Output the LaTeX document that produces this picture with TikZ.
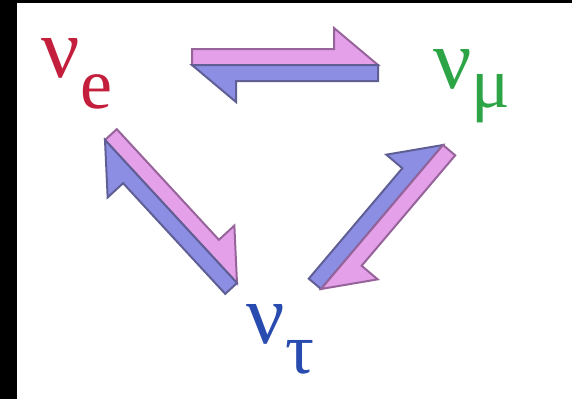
\documentclass[tikz,border=0pt]{standalone}
\usepackage{fontspec}
\setmainfont{Liberation Serif}
\usetikzlibrary{calc}
\definecolor{nured}{RGB}{195,30,60}
\definecolor{nugreen}{RGB}{45,165,70}
\definecolor{nublue}{RGB}{40,75,175}
\definecolor{pinkfill}{RGB}{228,160,232}
\definecolor{pinkline}{RGB}{150,100,155}
\definecolor{bluefill}{RGB}{140,142,228}
\definecolor{blueline}{RGB}{95,95,150}
\newcommand{\harpw}{16pt}
\newcommand{\harpb}{21pt}
\newcommand{\harph}{44pt}
\newcommand{\harp}[3]{%
  \draw[#3] let \p1=($(#2)-(#1)$), \n1={atan2(\y1,\x1)}, \n2={veclen(\x1,\y1)} in
    (#1) -- ++({\n1+90}:\harpw) -- ++(\n1:{\n2-\harph}) -- ++({\n1+90}:\harpb) -- (#2) -- cycle;}
\begin{document}
\begin{tikzpicture}[x=1pt,y=-1pt,
  nu/.style={inner sep=0pt, anchor=base west, font=\fontsize{85}{85}\selectfont},
  sub/.style={inner sep=0pt, anchor=base west, font=\fontsize{72}{72}\selectfont},
  pinkarrow/.style={fill=pinkfill, draw=pinkline, line width=2pt, line join=miter},
  bluearrow/.style={fill=bluefill, draw=blueline, line width=2pt, line join=miter}]
\useasboundingbox (0,0) rectangle (572,399);
\fill[white] (0,0) rectangle (572,399);
\fill[black] (0,0) rectangle (17,399);
\fill[black] (0,0) rectangle (572,3);
% labels
\node[nu, text=nured] (ve) at (41,77) {ν};
\node[sub, text=nured] (vesub) at (80,108) {e};
\node[nu, text=nugreen] (vm) at (433,88) {ν};
\node[sub, text=nugreen] (vmsub) at (471,107) {μ};
\node[nu, text=nublue] (vt) at (246,343) {ν};
\node[sub, text=nublue] (vtsub) at (285,373) {τ};
% arrow end points
\coordinate (topL) at (192,65);
\coordinate (topR) at (378,65);
\coordinate (leftU) at (105,140);
\coordinate (leftD) at (237,283);
\coordinate (rightD) at (321,289);
\coordinate (rightU) at (443,145);
% arrows
\harp{topL}{topR}{pinkarrow}
\harp{topR}{topL}{bluearrow}
\harp{leftU}{leftD}{pinkarrow}
\harp{leftD}{leftU}{bluearrow}
\harp{rightD}{rightU}{bluearrow}
\harp{rightU}{rightD}{pinkarrow}
\end{tikzpicture}
\end{document}
